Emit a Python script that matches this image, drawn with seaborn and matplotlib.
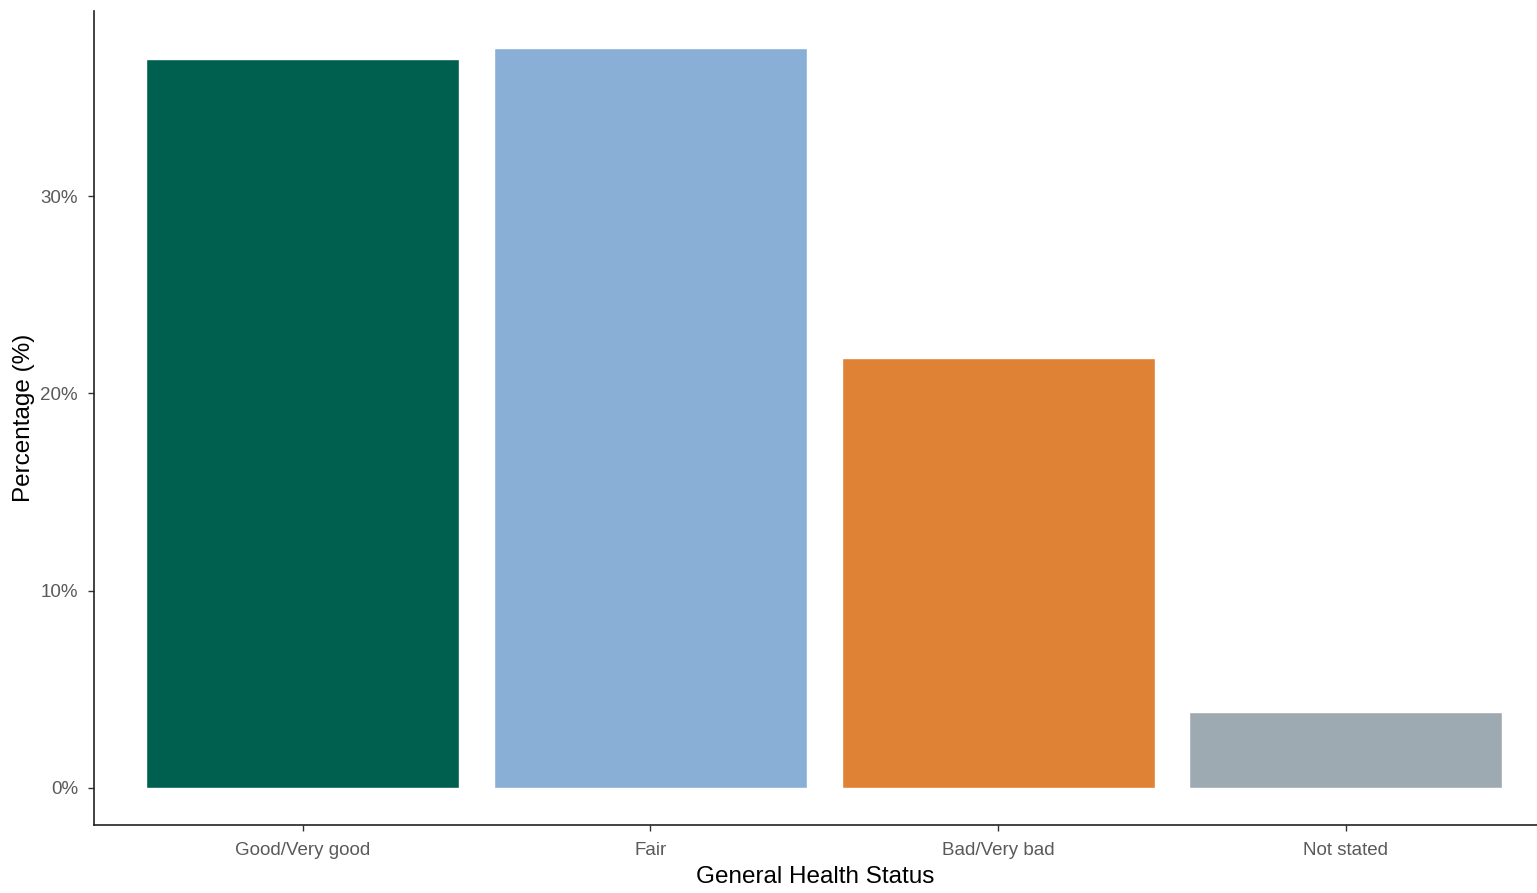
import matplotlib
matplotlib.use("Agg")
import matplotlib.pyplot as plt
import seaborn as sns
import pandas as pd
from matplotlib.ticker import FuncFormatter

# data
categories = ["Good/Very good", "Fair", "Bad/Very bad", "Not stated"]
percentages = [36.95, 37.5, 21.8, 3.85]
bar_colors = ["#00604F", "#8AAFD6", "#DF8236", "#9EAAB1"]

df = pd.DataFrame({"status": categories, "pct": percentages})

sns.set_theme(style="white")
plt.rcParams["font.family"] = ["Liberation Sans", "DejaVu Sans"]

fig = plt.figure(figsize=(15.37, 8.93), dpi=100)
ax = fig.add_axes([94 / 1537, 68 / 893, 1443 / 1537, 814 / 893])

sns.barplot(data=df, x="status", y="pct", hue="status", palette=bar_colors,
            order=categories, hue_order=categories, width=0.9, saturation=1,
            legend=False, ax=ax)

# ggplot-ish expansion
top = max(percentages)
ax.set_ylim(-0.05 * top, top * 1.05)
ax.set_xlim(-0.6, 3.55)
ax.set_yticks([0, 10, 20, 30])
ax.yaxis.set_major_formatter(FuncFormatter(lambda v, p: f"{int(v)}%"))

ax.set_xlabel("General Health Status", fontsize=17.5, color="black", labelpad=5)
ax.set_ylabel("Percentage (%)", fontsize=17.5, color="black", labelpad=4)
ax.tick_params(axis="both", labelsize=13.5, length=4.5, width=1,
               color="#333333", labelcolor="#5a5a5a", left=True, bottom=True)
ax.tick_params(axis="y", pad=7)
ax.tick_params(axis="x", pad=8)

for s in ["top", "right"]:
    ax.spines[s].set_visible(False)
for s in ["left", "bottom"]:
    ax.spines[s].set_color("#222222")
    ax.spines[s].set_linewidth(1.2)

fig.savefig("out.png", dpi=100)
